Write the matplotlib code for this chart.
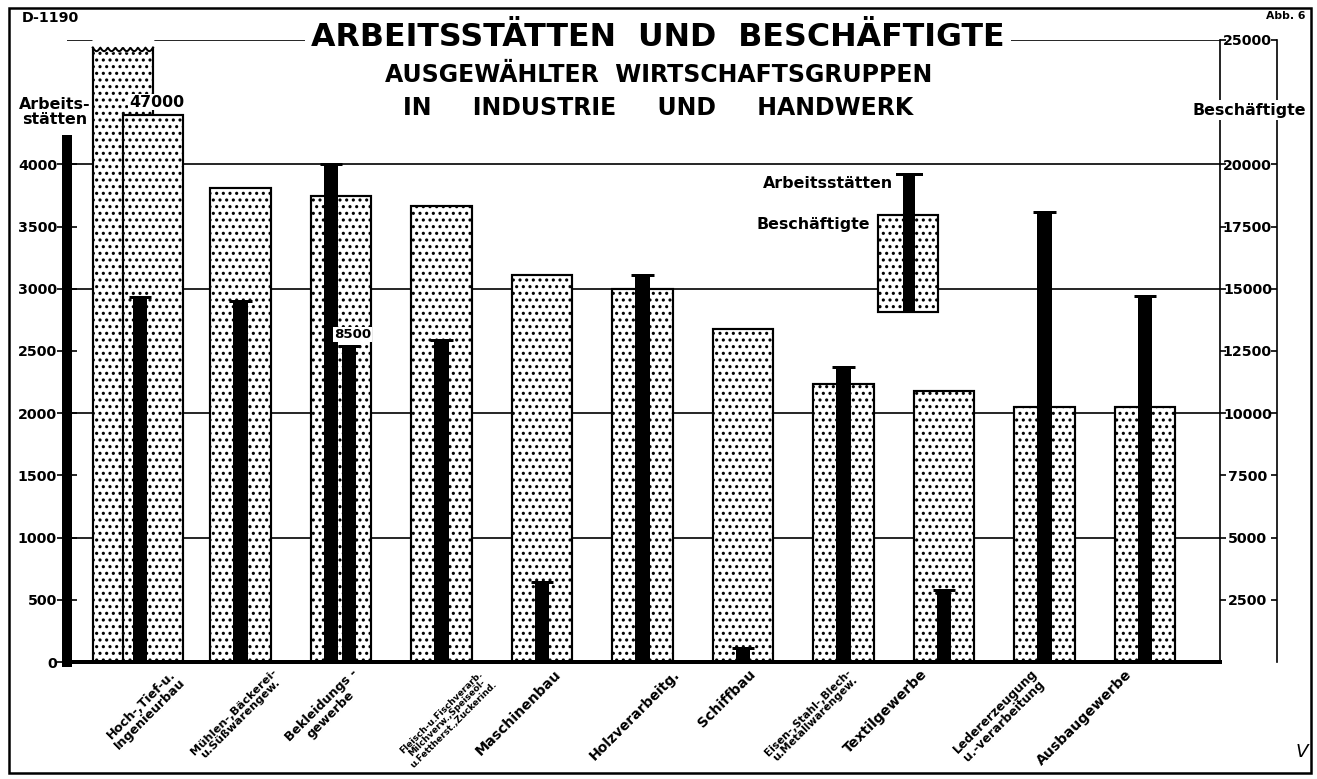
import numpy as np
import matplotlib
matplotlib.use("Agg")
import matplotlib.pyplot as plt
from matplotlib.patches import Rectangle
from matplotlib.lines import Line2D

W, H, DPI = 1317, 779, 120

categories = [
    "Hoch-,Tief-u.\nIngenieurbau",
    "Mühlen-,Bäckerei-\nu.Süßwarengew.",
    "Bekleidungs -\ngewerbe",
    "Fleisch-u.Fischverarb.\nMilchverw.,Speiseöl-\nu.Fettherst.,Zuckerind.",
    "Maschinenbau",
    "Holzverarbeitg.",
    "Schiffbau",
    "Eisen-,Stahl-,Blech-\nu.Metallwarengew.",
    "Textilgewerbe",
    "Ledererzeugung\nu.-verarbeitung",
    "Ausbaugewerbe",
]
# Beschaeftigte (right scale) and Arbeitsstaetten (left scale)
beschaeftigte = [47000, 19040, 18720, 18320, 15560, 15000, 13400, 11160, 10880, 10240, 10240]
arbeitsstaetten = [2935, 2900, 8500, 2590, 640, 3110, 110, 2370, 580, 3620, 2940]
# scale limits and the broken-off remainders as drawn in the chart
besch_cap = 25000
arb_cap = 4000
besch_overflow = [22000, 0, 0, 0, 0, 0, 0, 0, 0, 0, 0]
arb_overflow = [0, 0, 2540, 0, 0, 0, 0, 0, 0, 0, 0]

left_ticks = np.arange(0, 4001, 500)
right_ticks = [2500, 5000, 7500, 10000, 12500, 15000, 17500, 20000, 25000]
grid_vals = [5000, 10000, 15000, 20000, 25000]

# rotated category names: anchor shift (pixels) and lettering size (hand lettered, varies)
label_dx = [30, 31, 10, 38, 12, 30, 6, 3, -24, -14, -20]
label_size = [7.6, 6.8, 7.6, 5.4, 8.5, 8.3, 8.5, 6.4, 8.5, 7.4, 8.5]

plt.rcParams["font.family"] = ["DejaVu Sans"]
plt.rcParams["hatch.linewidth"] = 1.1


def fx(x):
    return x / W


def fy(y):
    return 1 - y / H


fig = plt.figure(figsize=(W / DPI, H / DPI), dpi=DPI, facecolor="white")
ax_l, ax_r, ax_t, ax_b = 67, 1220, 40, 662
ax = fig.add_axes([fx(ax_l), fy(ax_b), (ax_r - ax_l) / W, (ax_b - ax_t) / H])
ax2 = ax.twinx()
ax3 = ax.twinx()

c0, step = 140, 100.5
ax.set_xlim((ax_l - c0) / step, (ax_r - c0) / step)
ax.set_ylim(0, 25000)
ax2.set_ylim(0, 5000)
ax3.set_ylim(0, 25000)

x = np.arange(len(categories))
bw, kw = 0.6, 0.14

# grid lines
for g in grid_vals:
    ax.axhline(g, color="black", lw=1.0, zorder=0.5)

# stippled bars (Beschaeftigte)
for i in x:
    if besch_overflow[i]:
        l = i - 0.17 - bw / 2
        r = l + bw
        ax.bar(i - 0.17, besch_cap - 300, bw, color="white", edgecolor="black",
               hatch="...", lw=0, zorder=2)
        xs = np.linspace(l, r, 80)
        ys = besch_cap - 300 - 150 * np.abs(np.sin(np.pi * 8 * (xs - l) / (r - l)))
        ax.fill_between(xs, ys, besch_cap, color="white", zorder=2.1)
        ax.plot(xs, ys, color="black", lw=1.2, zorder=2.2)
        ax.vlines([l, r], 0, [ys[0], ys[-1]], color="black", lw=1.3, zorder=2.2)
        ax.bar(i + 0.13, besch_overflow[i], bw, color="white", edgecolor="black",
               hatch="...", lw=1.3, zorder=2.3)
        ax.annotate(f"{beschaeftigte[i]}", (i + 0.13, besch_overflow[i]),
                    xytext=(2, 3), textcoords="offset points", ha="center", va="bottom",
                    fontsize=9.5, fontweight="bold", zorder=3,
                    bbox=dict(facecolor="white", edgecolor="none", pad=0.5))
    else:
        ax.bar(i, beschaeftigte[i], bw, color="white", edgecolor="black",
               hatch="...", lw=1.3, zorder=2)

# black bars (Arbeitsstaetten)
for i in x:
    if arb_overflow[i]:
        pieces = [(i - 0.1, arb_cap), (i + 0.08, arb_overflow[i])]
    else:
        pieces = [(i, arbeitsstaetten[i])]
    for px, h in pieces:
        ax2.bar(px, h, kw, color="black", lw=0, zorder=3)
        ax2.hlines(h, px - 0.11, px + 0.11, color="black", lw=1.8, zorder=3)
    if arb_overflow[i]:
        ax2.annotate(f"{arbeitsstaetten[i]}", (i + 0.08, arb_overflow[i]),
                     xytext=(2, 3), textcoords="offset points", ha="center", va="bottom",
                     fontsize=8, fontweight="bold", zorder=4,
                     bbox=dict(facecolor="white", edgecolor="none", pad=0.6))

# spines and ticks
for s in ["left", "top"]:
    ax.spines[s].set_visible(False)
ax.spines["bottom"].set_linewidth(2.4)
ax.spines["right"].set_linewidth(1.0)
ax.set_xticks([])
ax.yaxis.tick_right()
ax.set_yticks(right_ticks)
ax.set_yticklabels([str(t) for t in right_ticks])
ax.tick_params(axis="y", direction="out", length=3.5, width=1.0, pad=13,
               labelsize=8.5)
for lab in ax.get_yticklabels():
    lab.set_horizontalalignment("center")
    lab.set_fontweight("bold")

for s in ["right", "top", "bottom"]:
    ax2.spines[s].set_visible(False)
ax2.spines["left"].set_linewidth(6)
ax2.spines["left"].set_bounds(0, 4200)
ax2.yaxis.tick_left()
ax2.set_yticks(left_ticks)
ax2.set_yticklabels([str(t) for t in left_ticks])
ax2.tick_params(axis="y", direction="inout", length=12, width=1.0, pad=0,
                labelsize=8.5)
for lab in ax2.get_yticklabels():
    lab.set_fontweight("bold")

for s in ["left", "top", "bottom"]:
    ax3.spines[s].set_visible(False)
ax3.spines["right"].set_position(("axes", (1277 - ax_l) / (ax_r - ax_l)))
ax3.spines["right"].set_linewidth(1.0)
ax3.set_yticks(right_ticks)
ax3.set_yticklabels([])
ax3.tick_params(axis="y", direction="in", length=3.5, width=1.0)

# category labels
for i, name in enumerate(categories):
    ax.text(i + label_dx[i] / step, -5 / (ax_b - ax_t), name,
            transform=ax.get_xaxis_transform(), rotation=45,
            rotation_mode="anchor", ha="right", va="top", multialignment="center",
            fontsize=label_size[i], fontweight="bold", linespacing=0.95)

# titles and texts
fig.text(fx(658), fy(38), "ARBEITSSTÄTTEN  UND  BESCHÄFTIGTE", ha="center", va="center",
         fontsize=19, fontweight="bold",
         bbox=dict(facecolor="white", edgecolor="none", pad=4))
fig.text(fx(659), fy(75), "AUSGEWÄHLTER  WIRTSCHAFTSGRUPPEN", ha="center", va="center",
         fontsize=14.2, fontweight="bold")
fig.text(fx(658), fy(108), "IN     INDUSTRIE     UND     HANDWERK", ha="center", va="center",
         fontsize=14.2, fontweight="bold")
fig.text(fx(55), fy(112), "Arbeits-\nstätten", ha="center", va="center",
         fontsize=9.5, fontweight="bold", linespacing=1.0)
fig.text(fx(1249), fy(110), "Beschäftigte", ha="center", va="center",
         fontsize=9.5, fontweight="bold",
         bbox=dict(facecolor="white", edgecolor="none", pad=1.5))
fig.text(fx(22), fy(18), "D-1190", ha="left", va="center", fontsize=8.5, fontweight="bold")
fig.text(fx(1306), fy(16), "Abb. 6", ha="right", va="center", fontsize=6.5, fontweight="bold")
fig.text(fx(1302), fy(752), "V", ha="center", va="center", fontsize=11, fontstyle="italic")

# legend key
fig.add_artist(Rectangle((fx(878), fy(312)), 60 / W, 97 / H, transform=fig.transFigure,
                         facecolor="white", edgecolor="black", hatch="...", lw=1.3, zorder=2))
fig.add_artist(Rectangle((fx(903), fy(312)), 12 / W, 139 / H, transform=fig.transFigure,
                         facecolor="black", edgecolor="none", zorder=3))
fig.add_artist(Line2D([fx(897), fx(921)], [fy(174), fy(174)], transform=fig.transFigure,
                      color="black", lw=1.8, zorder=3))
fig.text(fx(763), fy(183), "Arbeitsstätten", ha="left", va="center", fontsize=9.5,
         fontweight="bold")
fig.text(fx(757), fy(225), "Beschäftigte", ha="left", va="center", fontsize=9.5,
         fontweight="bold")

# outer frame
fig.add_artist(Rectangle((fx(9), fy(773)), 1302 / W, 765 / H, transform=fig.transFigure,
                         fill=False, edgecolor="black", lw=1.5, zorder=5))

fig.savefig("out.png", dpi=DPI, facecolor="white")
